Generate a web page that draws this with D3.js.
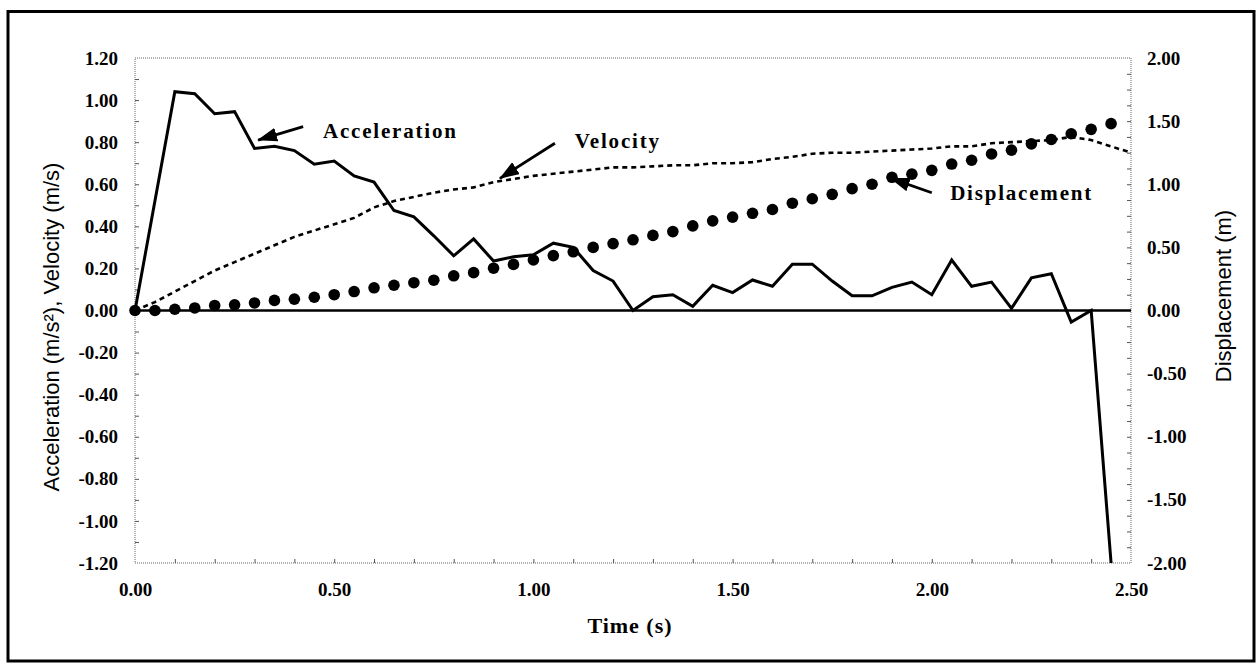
<!DOCTYPE html>
<html>
<head>
<meta charset="utf-8">
<script src="https://cdn.jsdelivr.net/npm/d3@7"></script>
<style>
  html, body { margin: 0; padding: 0; background: #fff; }
  svg { display: block; }
</style>
</head>
<body>
<svg id="chart" width="1260" height="669"></svg>
<script>
// ---------- data ----------
const time = [0.00,0.05,0.10,0.15,0.20,0.25,0.30,0.35,0.40,0.45,0.50,0.55,0.60,0.65,0.70,0.75,0.80,0.85,0.90,0.95,
              1.00,1.05,1.10,1.15,1.20,1.25,1.30,1.35,1.40,1.45,1.50,1.55,1.60,1.65,1.70,1.75,1.80,1.85,1.90,1.95,
              2.00,2.05,2.10,2.15,2.20,2.25,2.30,2.35,2.40,2.45];
const acceleration = [0,0.52,1.04,1.03,0.935,0.945,0.77,0.78,0.76,0.695,0.71,0.64,0.61,0.475,0.445,0.355,0.26,0.34,0.235,0.255,
                      0.265,0.32,0.30,0.19,0.14,0.00,0.065,0.075,0.02,0.12,0.085,0.145,0.115,0.22,0.22,0.14,0.07,0.07,0.11,0.135,
                      0.075,0.24,0.115,0.135,0.01,0.155,0.175,-0.055,0.00,-1.20];
const velocityTime = [0.00,0.05,0.10,0.15,0.20,0.25,0.30,0.35,0.40,0.45,0.50,0.55,0.60,0.65,0.70,0.75,0.80,0.85,0.90,0.95,
              1.00,1.05,1.10,1.15,1.20,1.25,1.30,1.35,1.40,1.45,1.50,1.55,1.60,1.65,1.70,1.75,1.80,1.85,1.90,1.95,
              2.00,2.05,2.10,2.15,2.20,2.25,2.30,2.35,2.40,2.45,2.50];
const velocity = [0,0.04,0.09,0.14,0.19,0.23,0.27,0.31,0.35,0.38,0.41,0.44,0.49,0.52,0.54,0.56,0.575,0.585,0.61,0.625,
                  0.64,0.65,0.66,0.67,0.68,0.68,0.685,0.69,0.69,0.70,0.70,0.705,0.72,0.73,0.745,0.75,0.75,0.755,0.76,0.765,
                  0.77,0.78,0.78,0.795,0.80,0.805,0.81,0.825,0.81,0.78,0.75];
const displacement = [0,0,0.01,0.02,0.04,0.045,0.06,0.08,0.09,0.105,0.125,0.15,0.18,0.20,0.22,0.24,0.275,0.30,0.335,0.365,
                      0.40,0.435,0.465,0.50,0.53,0.56,0.595,0.625,0.67,0.71,0.74,0.77,0.80,0.85,0.885,0.92,0.965,1.00,1.055,1.08,
                      1.11,1.16,1.19,1.24,1.27,1.32,1.355,1.40,1.435,1.48];

const xTicks = [0,0.5,1.0,1.5,2.0,2.5];
const leftTicks = [-1.2,-1.0,-0.8,-0.6,-0.4,-0.2,0,0.2,0.4,0.6,0.8,1.0,1.2];
const rightTicks = [-2.0,-1.5,-1.0,-0.5,0,0.5,1.0,1.5,2.0];
const xMinor = [0.1,0.2,0.3,0.4,0.5,0.6,0.7,0.8,0.9,1.0,1.1,1.2,1.3,1.4,1.5,1.6,1.7,1.8,1.9,2.0,2.1,2.2,2.3,2.4];
const leftMinor = [-1.1,-1.0,-0.9,-0.8,-0.7,-0.6,-0.5,-0.4,-0.3,-0.2,-0.1,0.1,0.2,0.3,0.4,0.5,0.6,0.7,0.8,0.9,1.0,1.1];
const rightMinor = [-1.875,-1.75,-1.625,-1.5,-1.375,-1.25,-1.125,-1.0,-0.875,-0.75,-0.625,-0.5,-0.375,-0.25,-0.125,
                    0.125,0.25,0.375,0.5,0.625,0.75,0.875,1.0,1.125,1.25,1.375,1.5,1.625,1.75,1.875];

const xTitle = "Time (s)";
const leftTitle = "Acceleration (m/s²), Velocity (m/s)";
const rightTitle = "Displacement (m)";

// annotations in data units: [label, textT, textV, tailT, tailV, headT, headV, axis]
const notes = [
  ["Acceleration", 0.472, 0.82, 0.422, 0.874, 0.309, 0.810, "L"],
  ["Velocity",     1.104, 0.772, 1.054, 0.795, 0.916, 0.628, "L"],
  ["Displacement", 2.046, 0.875, 2.000, 0.933, 1.897, 1.047, "R"]
];

// ---------- layout ----------
const svg = d3.select("#chart");
const L = 135, R = 1131, T = 58, B = 563;
const x = d3.scaleLinear().domain([0, 2.5]).range([L, R]);
const yL = d3.scaleLinear().domain([-1.2, 1.2]).range([B, T]);
const yR = d3.scaleLinear().domain([-2, 2]).range([B, T]);

const serif = "'Liberation Serif','Times New Roman',serif";
const sans = "'Liberation Sans',Arial,sans-serif";

svg.append("rect").attr("width", 1260).attr("height", 669).attr("fill", "#fff");
// outer frame
svg.append("rect").attr("x", 8).attr("y", 11.5).attr("width", 1246).attr("height", 649.5)
  .attr("fill", "none").attr("stroke", "#000").attr("stroke-width", 3);

// plot border (dotted gray)
svg.append("rect").attr("x", L).attr("y", T).attr("width", R - L).attr("height", B - T)
  .attr("fill", "none").attr("stroke", "#666").attr("stroke-width", 1).attr("stroke-dasharray", "1,1");

// minor ticks
svg.append("g").attr("transform", `translate(${L},0)`)
  .call(d3.axisRight(yL).tickValues(leftMinor).tickSize(4).tickFormat(""))
  .call(g => g.select(".domain").remove())
  .selectAll("line").attr("stroke", "#555");
svg.append("g").attr("transform", `translate(${R},0)`)
  .call(d3.axisLeft(yR).tickValues(rightMinor).tickSize(4).tickFormat(""))
  .call(g => g.select(".domain").remove())
  .selectAll("line").attr("stroke", "#555");
svg.append("g").attr("transform", `translate(0,${B})`)
  .call(d3.axisTop(x).tickValues(xMinor).tickSize(4).tickFormat(""))
  .call(g => g.select(".domain").remove())
  .selectAll("line").attr("stroke", "#555");

// tick labels
const fmt = d => d.toFixed(2);
const gl = svg.append("g").attr("transform", `translate(${L},0)`)
  .call(d3.axisLeft(yL).tickValues(leftTicks).tickSize(0).tickPadding(17).tickFormat(fmt));
const gr = svg.append("g").attr("transform", `translate(${R},0)`)
  .call(d3.axisRight(yR).tickValues(rightTicks).tickSize(0).tickPadding(16).tickFormat(fmt));
const gb = svg.append("g").attr("transform", `translate(0,${B})`)
  .call(d3.axisBottom(x).tickValues(xTicks).tickSize(0).tickPadding(20).tickFormat(fmt));
[gl, gr, gb].forEach(g => {
  g.select(".domain").remove();
  g.selectAll("text").attr("font-family", serif).attr("font-size", 19)
    .attr("font-weight", "bold").attr("fill", "#000");
});

// zero line
svg.append("line").attr("x1", x(0)).attr("x2", x(2.5)).attr("y1", yL(0)).attr("y2", yL(0))
  .attr("stroke", "#000").attr("stroke-width", 2.5);

// velocity (dashed)
svg.append("path")
  .datum(velocityTime.map((t, i) => [t, velocity[i]]))
  .attr("fill", "none").attr("stroke", "#000").attr("stroke-width", 2.6)
  .attr("stroke-dasharray", "5,4")
  .attr("d", d3.line().x(d => x(d[0])).y(d => yL(d[1])));

// acceleration (solid)
svg.append("path")
  .datum(time.map((t, i) => [t, acceleration[i]]))
  .attr("fill", "none").attr("stroke", "#000").attr("stroke-width", 3)
  .attr("stroke-linejoin", "miter")
  .attr("d", d3.line().x(d => x(d[0])).y(d => yL(d[1])));

// displacement (big dots)
svg.append("g").selectAll("circle")
  .data(time.map((t, i) => [t, displacement[i]]))
  .join("circle")
  .attr("cx", d => x(d[0])).attr("cy", d => yR(d[1])).attr("r", 5.8).attr("fill", "#000");

// axis titles
svg.append("text").attr("x", x(1.25) - 3).attr("y", 633)
  .attr("text-anchor", "middle").attr("font-family", serif).attr("font-weight", "bold")
  .attr("font-size", 22).attr("letter-spacing", 1).text(xTitle);
svg.append("text").attr("transform", "translate(59,327) rotate(-90)")
  .attr("text-anchor", "middle").attr("font-family", sans).attr("font-size", 22)
  .text(leftTitle);
svg.append("text").attr("transform", "translate(1231,296) rotate(-90)")
  .attr("text-anchor", "middle").attr("font-family", sans).attr("font-size", 22)
  .text(rightTitle);

// annotation arrows
const defs = svg.append("defs");
defs.append("marker").attr("id", "ah").attr("viewBox", "0 0 20 14")
  .attr("refX", 19).attr("refY", 7).attr("markerWidth", 20).attr("markerHeight", 14)
  .attr("markerUnits", "userSpaceOnUse").attr("orient", "auto")
  .append("path").attr("d", "M0,0 L20,7 L0,14 Z").attr("fill", "#000");

notes.forEach(n => {
  const ys = n[7] === "L" ? yL : yR;
  svg.append("text").attr("x", x(n[1])).attr("y", ys(n[2]))
    .attr("font-family", serif).attr("font-weight", "bold").attr("font-size", 21)
    .attr("letter-spacing", 1.8).text(n[0]);
  svg.append("line").attr("x1", x(n[3])).attr("y1", ys(n[4]))
    .attr("x2", x(n[5])).attr("y2", ys(n[6]))
    .attr("stroke", "#000").attr("stroke-width", 2.8).attr("marker-end", "url(#ah)");
});
</script>
</body>
</html>
